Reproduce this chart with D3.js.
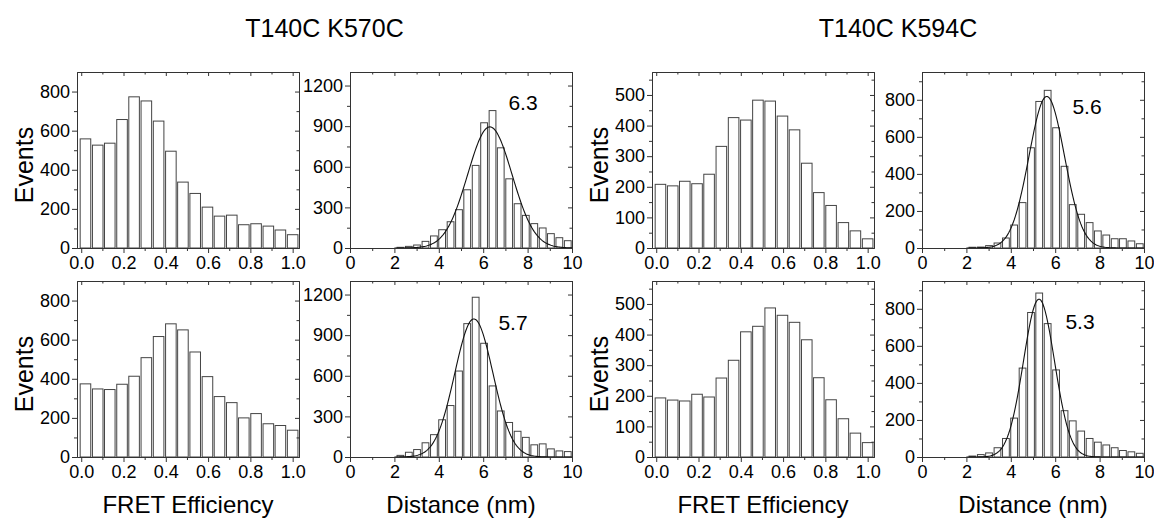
<!DOCTYPE html>
<html><head><meta charset="utf-8">
<script src="https://cdn.jsdelivr.net/npm/d3@7"></script>
<style>
body{margin:0;background:#fff;}
svg{display:block;}
text{font-family:"Liberation Sans",Arial,sans-serif;fill:#000;}
</style>
</head><body>
<svg id="chart" width="1154" height="519"></svg>
<script>
// ---------------- DATA ----------------
const fretBins = [0.020,0.078,0.135,0.193,0.250,0.308,0.366,0.424,0.481,0.539,0.597,0.654,0.712,0.769,0.827,0.885,0.942,1.000];
const fretBinWidth = 0.0576;
const distBins = [2.27,2.65,3.02,3.40,3.78,4.15,4.53,4.91,5.28,5.66,6.04,6.42,6.79,7.17,7.55,7.92,8.30,8.68,9.05,9.43,9.81];
const distBinWidth = 0.377;

// T140C K570C
const fretK570Top = [558,526,536,657,773,752,649,495,337,279,209,163,168,119,124,112,92,68];
const distK570Top = [5,12,22,49,89,135,194,283,430,610,925,1015,740,511,327,241,180,148,106,76,54];
const fretK570Bot = [374,348,345,372,413,508,616,681,650,537,411,309,278,200,222,170,161,137];
const distK570Bot = [12,35,55,105,165,275,380,635,985,1180,840,525,340,255,190,145,90,97,60,45,40];
// T140C K594C
const fretK594Top = [208,203,218,210,241,332,426,418,483,480,431,386,277,181,139,83,56,30];
const distK594Top = [4,5,13,27,54,124,245,541,791,851,649,441,234,182,137,92,70,50,50,38,23];
const fretK594Bot = [193,186,183,205,196,258,316,409,427,487,463,440,383,259,187,125,78,47];
const distK594Bot = [5,13,22,50,100,210,480,780,885,720,470,250,195,140,100,80,65,50,35,28,20];

// Gaussian fits of distance histograms: [K570 top, K570 bottom, K594 top, K594 bottom]
const fitLabels = ["6.3","5.7","5.6","5.3"];
const fitMeans  = [6.3, 5.58, 5.62, 5.27];
const fitSigmas = [1.0, 0.86, 0.80, 0.70];
const fitAmps   = [895, 1020, 818, 852];

// Axis ticks
const fretTicks = [0,0.2,0.4,0.6,0.8,1.0];
const fretMinorTicks = [0.1,0.3,0.5,0.7,0.9];
const distTicks = [0,2,4,6,8,10];
const distMinorTicks = [1,3,5,7,9];
const yTicksK570Fret = [0,200,400,600,800];
const yMinorK570Fret = [100,300,500,700];
const yTicksK570Dist = [0,300,600,900,1200];
const yMinorK570Dist = [150,450,750,1050];
const yTicksK594Fret = [0,100,200,300,400,500];
const yMinorK594Fret = [50,150,250,350,450,550];
const yTicksK594Dist = [0,200,400,600,800];
const yMinorK594Dist = [100,300,500,700,900];

const titles = ["T140C K570C","T140C K594C"];
const xTitles = ["FRET Efficiency","Distance (nm)","FRET Efficiency","Distance (nm)"];
const yTitle = "Events";

// ---------------- LAYOUT ----------------
const svg = d3.select("#chart");
const W = 222, H = 176;
const colX = [77, 350, 652, 922];
const rowY = [72, 281];
const AX = "#333";

const panels = [
  {col:0,row:0,type:"fret",vals:fretK570Top,yMax:900, yt:yTicksK570Fret, ym:yMinorK570Fret},
  {col:1,row:0,type:"dist",vals:distK570Top,yMax:1300,yt:yTicksK570Dist, ym:yMinorK570Dist, fit:0, lab:[173,38]},
  {col:0,row:1,type:"fret",vals:fretK570Bot,yMax:900, yt:yTicksK570Fret, ym:yMinorK570Fret},
  {col:1,row:1,type:"dist",vals:distK570Bot,yMax:1300,yt:yTicksK570Dist, ym:yMinorK570Dist, fit:1, lab:[163,49]},
  {col:2,row:0,type:"fret",vals:fretK594Top,yMax:575, yt:yTicksK594Fret, ym:yMinorK594Fret},
  {col:3,row:0,type:"dist",vals:distK594Top,yMax:950, yt:yTicksK594Dist, ym:yMinorK594Dist, fit:2, lab:[165,42]},
  {col:2,row:1,type:"fret",vals:fretK594Bot,yMax:575, yt:yTicksK594Fret, ym:yMinorK594Fret},
  {col:3,row:1,type:"dist",vals:distK594Bot,yMax:950, yt:yTicksK594Dist, ym:yMinorK594Dist, fit:3, lab:[158,48]},
];

function styleAxis(sel){
  sel.select(".domain").attr("stroke",AX).attr("stroke-width",1);
  sel.selectAll(".tick line").attr("stroke",AX).attr("stroke-width",1);
  sel.selectAll(".tick text").style("font-size","18px").attr("fill","#000");
}

panels.forEach(p => {
  const g = svg.append("g").attr("transform",`translate(${colX[p.col]},${rowY[p.row]})`);
  const isF = p.type === "fret";
  const x = d3.scaleLinear().domain(isF ? [-0.02,1.03] : [0,10]).range([0,W]);
  const y = d3.scaleLinear().domain([0,p.yMax]).range([H,0]);
  const bins = isF ? fretBins : distBins;
  const bw = isF ? fretBinWidth : distBinWidth;
  const xt = isF ? fretTicks : distTicks;
  const xm = isF ? fretMinorTicks : distMinorTicks;
  const pw = x(bw) - x(0);

  // bars
  g.selectAll("rect.bar").data(p.vals).join("rect").attr("class","bar")
    .attr("x",(d,i)=>x(bins[i]-bw/2)+0.8)
    .attr("width",pw-1.6)
    .attr("y",d=>y(d))
    .attr("height",d=>H-y(d))
    .attr("fill","#fff").attr("stroke","#444").attr("stroke-width",1);

  // fit curve
  if (p.fit !== undefined) {
    const m = fitMeans[p.fit], s = fitSigmas[p.fit], a = fitAmps[p.fit];
    const xs = d3.range(2, 10.0001, 0.05);
    const line = d3.line().x(d=>x(d)).y(d=>y(a*Math.exp(-0.5*((d-m)/s)**2)));
    g.append("path").datum(xs).attr("d",line).attr("fill","none")
      .attr("stroke","#111").attr("stroke-width",1.1);
    g.append("text").attr("x",p.lab[0]).attr("y",p.lab[1]).attr("text-anchor","middle")
      .style("font-size","21px").text(fitLabels[p.fit]);
  }

  // bottom axis (outward)
  const bx = g.append("g").attr("transform",`translate(0,${H})`)
    .call(d3.axisBottom(x).tickValues(xt).tickSize(5).tickSizeOuter(0).tickPadding(3)
      .tickFormat(isF ? d3.format(".1f") : d3.format("d")));
  styleAxis(bx);
  const bxm = g.append("g").attr("transform",`translate(0,${H})`)
    .call(d3.axisBottom(x).tickValues(xm).tickSize(3).tickSizeOuter(0).tickFormat(""));
  styleAxis(bxm);
  // top (inward)
  const tx = g.append("g").call(d3.axisBottom(x).tickValues(xt).tickSize(4).tickSizeOuter(0).tickFormat(""));
  styleAxis(tx);
  const txm = g.append("g").call(d3.axisBottom(x).tickValues(xm).tickSize(2.5).tickSizeOuter(0).tickFormat(""));
  styleAxis(txm);
  // left (outward)
  const ly = g.append("g").call(d3.axisLeft(y).tickValues(p.yt).tickSize(5).tickSizeOuter(0).tickPadding(2).tickFormat(d3.format("d")));
  styleAxis(ly);
  const lym = g.append("g").call(d3.axisLeft(y).tickValues(p.ym).tickSize(3).tickSizeOuter(0).tickFormat(""));
  styleAxis(lym);
  // right (inward)
  const ry = g.append("g").attr("transform",`translate(${W},0)`)
    .call(d3.axisLeft(y).tickValues(p.yt).tickSize(4).tickSizeOuter(0).tickFormat(""));
  styleAxis(ry);
  const rym = g.append("g").attr("transform",`translate(${W},0)`)
    .call(d3.axisLeft(y).tickValues(p.ym).tickSize(2.5).tickSizeOuter(0).tickFormat(""));
  styleAxis(rym);

  // y title
  if (isF) {
    svg.append("text")
      .attr("transform",`translate(${colX[p.col]-44},${rowY[p.row]+H/2+5}) rotate(-90)`)
      .attr("text-anchor","middle").style("font-size","25px").text(yTitle);
  }
});

// x titles
xTitles.forEach((t,i)=>{
  svg.append("text").attr("x",colX[i]+W/2).attr("y",513).attr("text-anchor","middle")
    .style("font-size","24px").text(t);
});
// group titles
titles.forEach((t,i)=>{
  const cx = (colX[i*2] + colX[i*2+1] + W)/2;
  svg.append("text").attr("x",cx).attr("y",37).attr("text-anchor","middle")
    .style("font-size","25px").text(t);
});
</script>
</body></html>
